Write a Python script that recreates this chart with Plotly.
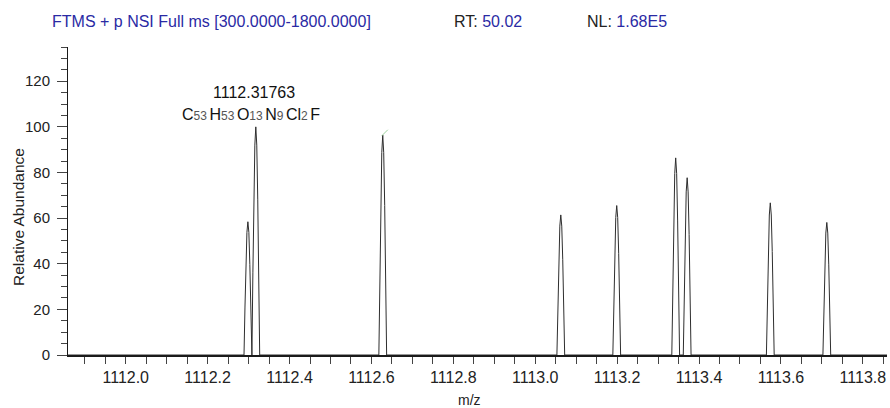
import plotly.graph_objects as go

# Centroid m/z values and relative abundances of the profile peaks
peak_mz = [1112.2983, 1112.31763, 1112.6276, 1113.0624, 1113.1990,
           1113.3430, 1113.3710, 1113.5740, 1113.7120]
peak_rel = [58.4, 100.0, 96.4, 61.4, 65.5, 86.4, 77.7, 66.7, 58.1]

# Labelled base peak
label_mz = "1112.31763"
label_formula = [("C", "53"), ("H", "53"), ("O", "13"), ("N", "9"), ("Cl", "2"), ("F", "")]

# Scan header values
scan_filter = "FTMS + p NSI Full ms [300.0000-1800.0000]"
rt_value = "50.02"
nl_value = "1.68E5"

x_range = [1111.859, 1113.859]
y_range = [0, 135]

# Profile template for each peak (offsets in half-widths, relative heights)
HALF_WIDTH = 0.0095
PROFILE_OFFSETS = [-1.0, -0.75, -0.5, -0.25, 0.0, 0.25, 0.5, 0.75, 1.0]
PROFILE_SHAPE = [0.0, 0.36, 0.68, 0.92, 1.0, 0.92, 0.68, 0.36, 0.0]

xs = [x_range[0]]
ys = [0.0]
for mz, h in zip(peak_mz, peak_rel):
    for off, s in zip(PROFILE_OFFSETS, PROFILE_SHAPE):
        xs.append(mz + off * HALF_WIDTH)
        ys.append(h * s)
xs.append(x_range[1])
ys.append(0.0)

FONT = "Arial, Liberation Sans, sans-serif"
BLUE = "#2a2aa4"

fig = go.Figure()
fig.add_trace(go.Scatter(
    x=xs, y=ys, mode="lines",
    line=dict(color="#2e2e2e", width=1),
    hoverinfo="skip", showlegend=False,
))
# small flag marker on the third peak apex
fig.add_trace(go.Scatter(
    x=[peak_mz[2] + 0.005], y=[peak_rel[2] + 1.0], mode="markers",
    marker=dict(symbol="line-ne", size=6, line=dict(color="#9ed39e", width=1)),
    hoverinfo="skip", showlegend=False,
))

PL, PR, PT, PB = 68, 3, 47, 53
W, H = 890, 408
pw = W - PL - PR
ph = H - PT - PB


def px(x):
    return (x - PL) / pw


def py(y):
    return (H - PB - y) / ph


# elemental formula: grey, slightly smaller counts, tight spacing between elements
gap = "<span style='font-size:9px'> </span>"
formula_html = gap.join(
    f"{el}<span style='font-size:12px;color:#555555'>{n}</span>" if n else el
    for el, n in label_formula
)

annotations = [
    dict(x=px(50), y=py(22), xref="paper", yref="paper", text=scan_filter,
         showarrow=False, xanchor="left", yanchor="middle",
         font=dict(family=FONT, size=16, color=BLUE)),
    dict(x=px(452), y=py(22), xref="paper", yref="paper",
         text=f"<span style='color:#222222'>RT:</span> {rt_value}",
         showarrow=False, xanchor="left", yanchor="middle",
         font=dict(family=FONT, size=16, color=BLUE)),
    dict(x=px(585), y=py(22), xref="paper", yref="paper",
         text=f"<span style='color:#222222'>NL:</span> {nl_value}",
         showarrow=False, xanchor="left", yanchor="middle",
         font=dict(family=FONT, size=16, color=BLUE)),
    dict(x=peak_mz[1], y=peak_rel[1], xref="x", yref="y", text=label_mz,
         showarrow=False, xanchor="center", yanchor="middle", yshift=34, xshift=-2,
         font=dict(family=FONT, size=16, color="#111111")),
    dict(x=peak_mz[1], y=peak_rel[1], xref="x", yref="y", text=formula_html,
         showarrow=False, xanchor="center", yanchor="middle", yshift=12, xshift=-5,
         font=dict(family=FONT, size=16, color="#111111")),
    dict(x=px(18), y=py(217), xref="paper", yref="paper", text="Relative Abundance",
         showarrow=False, textangle=-90, xanchor="center", yanchor="middle",
         font=dict(family=FONT, size=15.5, color="#222222")),
    dict(x=px(469.5), y=py(400), xref="paper", yref="paper", text="m/z",
         showarrow=False, xanchor="center", yanchor="middle",
         font=dict(family=FONT, size=14, color="#222222")),
]

fig.update_layout(
    width=W, height=H, autosize=False,
    margin=dict(l=PL, r=PR, t=PT, b=PB, pad=0),
    paper_bgcolor="white", plot_bgcolor="white",
    annotations=annotations,
    xaxis=dict(
        range=x_range, tick0=1112.0, dtick=0.2, tickformat=".1f",
        showgrid=False, zeroline=False,
        showline=True, linecolor="#1a1a1a", linewidth=1.5,
        ticks="outside", ticklen=7, tickcolor="#444444", tickwidth=1,
        tickfont=dict(family=FONT, size=16, color="#222222"),
        minor=dict(tick0=1112.0, dtick=0.05, ticks="outside", ticklen=7,
                   tickcolor="#444444", tickwidth=1, showgrid=False),
    ),
    yaxis=dict(
        range=y_range, tick0=0, dtick=20,
        showgrid=False, zeroline=False,
        showline=True, linecolor="#1a1a1a", linewidth=1,
        ticks="outside", ticklen=10, tickcolor="#444444", tickwidth=1,
        ticklabelstandoff=4,
        tickfont=dict(family=FONT, size=15, color="#222222"),
        minor=dict(tick0=0, dtick=5, ticks="outside", ticklen=6,
                   tickcolor="#444444", tickwidth=1, showgrid=False),
    ),
)

fig.write_html("out.html")
